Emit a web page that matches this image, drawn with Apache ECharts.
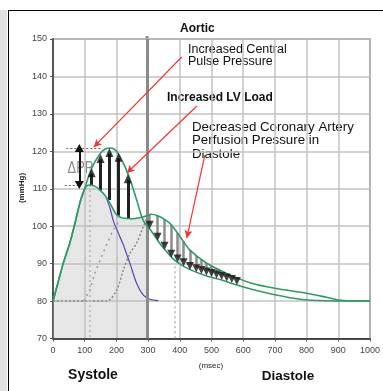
<!DOCTYPE html>
<html><head><meta charset="utf-8">
<script src="https://cdn.jsdelivr.net/npm/echarts@6/dist/echarts.min.js"></script>
<style>html,body{margin:0;padding:0;background:#fff}#c{width:383px;height:391px}</style>
</head><body><div id="c"></div>
<script>
// ---- data ----
var xTicks = [0,100,200,300,400,500,600,700,800,900,1000];
var yTicks = [70,80,90,100,110,120,130,140,150];
// normal (late reflection) aortic pressure
var normalCurve = [[0,80],[17,85.3],[32,90],[53,95.5],[70,101],[85,106.3],[100,109.9],[113,111],[132,110.7],[150,109.5],[167,107.9],[185,105.3],[201,103],[220,102.2],[250,102],[274,102.3],[296,102.8],[310,103.2],[330,102.8],[352,101.8],[373,100.4],[401,97.2],[432,93.6],[485,90.1],[548,87.4],[621,84.9],[700,83.4],[800,82.1],[863,81],[900,80.3],[950,80],[1000,80]];
// shaded systolic area (same curve up to end of systole)
var systoleArea = [[0,80],[17,85.3],[32,90],[53,95.5],[70,101],[85,106.3],[100,109.9],[113,111],[132,110.7],[150,109.5],[167,107.9],[185,105.3],[201,103],[220,102.2],[250,102],[274,102.3],[296,102.8]];
// early reflection aortic pressure
var earlyCurve = [[0,80],[17,85.3],[32,90],[53,95.5],[70,101],[85,106.3],[100,110.1],[122,115.5],[148,119.3],[165,120.6],[182,120.9],[197,120.3],[212,118.5],[238,113.7],[264,107],[285,101.5],[306,99.2],[332,96],[353,93.7],[380,91.2],[406,89.6],[432,88.4],[485,86.7],[537,85.5],[580,84.3],[621,83.3],[700,81.7],[779,80.5],[863,80.1],[1000,80]];
// forward wave tail
var forwardWave = [[167,107.9],[180,104.8],[190,101.5],[211,97.2],[222,95],[232,92.6],[243,90],[264,84.7],[285,81.6],[306,80.5],[332,80.1]];
// reflected waves
var earlyReflected = [[96,80],[116,83],[132,87.4],[153,91.8],[169,95],[190,99],[210,101.5]];
var lateReflected = [[0,80],[169,80],[201,83],[222,88.3],[243,92.8],[264,95.5],[285,99.9],[296,102]];
// systolic augmentation arrows
var upArrowX = [122,150,178,207,236];
var upArrowFrom = [111,109.5,107,102.8,102];
var upArrowTo = [115.5,119.3,120.9,119.6,113.9];
// diastolic loss arrows
var downArrowX = [305,330,352,373,393,412,432,452,468,484,500,516,532,548,564,580];
var downArrowFrom = [103.2,102.8,101.8,100.4,98.2,96,93.6,92,91.2,90.2,89.5,88.8,88.1,87.4,86.8,86.2];
var downArrowTo = [99.3,96.1,93.7,91.6,90.3,89.3,88.3,87.7,87.2,86.8,86.4,86,85.6,85.2,84.8,84.3];
var systoleEnd = 297;
var ppTop = 120.9, ppBottom = 111;

var green = '#2f9a68';
function ml(lines, style, sym, symSize){
  return {type:'line', data:[], silent:true, animation:false,
    markLine:{silent:true, animation:false, symbol: sym || ['none','none'], symbolSize: symSize || 8,
      label:{show:false}, emphasis:{disabled:true}, lineStyle:style, data:lines}};
}
var upLines = upArrowX.map(function(x,i){return [{coord:[x,upArrowFrom[i]]},{coord:[x,upArrowTo[i]-1.5]}];});
var downLines = downArrowX.map(function(x,i){return [{coord:[x,downArrowFrom[i]]},{coord:[x,downArrowTo[i]+1.5]}];});

var chart = echarts.init(document.getElementById('c'), null, {renderer:'canvas'});
chart.setOption({
  animation:false,
  grid:{left:53, right:13, top:39, bottom:52.5, show:true, borderColor:'#333', borderWidth:1.2},
  xAxis:{type:'value', min:0, max:1000, interval:100,
    axisLine:{show:true, lineStyle:{color:'#222', width:1.5}},
    axisTick:{show:true, length:3, lineStyle:{color:'#555'}},
    axisLabel:{fontSize:9, color:'#444', margin:8, fontFamily:'Liberation Sans', formatter:function(v){return String(v);}},
    splitLine:{show:true, lineStyle:{color:'#c2c2c2', width:1.5}}},
  yAxis:{type:'value', min:70, max:150, interval:10,
    axisLine:{show:true, lineStyle:{color:'#555', width:2}},
    axisTick:{show:true, length:3, lineStyle:{color:'#555'}},
    axisLabel:{fontSize:9, color:'#444', margin:6, fontFamily:'Liberation Sans', formatter:function(v){return String(v);}},
    splitLine:{show:true, lineStyle:{color:'#c2c2c2', width:1.5}}},
  series:[
    {type:'line', data:systoleArea, smooth:0.3, symbol:'none', lineStyle:{width:0},
      areaStyle:{color:'rgba(185,185,185,0.5)', origin:'start'}, z:1, silent:true},
    ml([[{coord:[115,111]},{coord:[115,70]}],[{coord:[385,89.3]},{coord:[385,70]}]],
      {color:'#b5b5b5', width:1.5, type:[2,3]}),
    ml([{xAxis:systoleEnd}], {color:'#8a8a8a', width:3, type:'solid'}),
    {type:'line', data:earlyReflected, smooth:0.3, symbol:'none', silent:true, z:3,
      lineStyle:{color:'#9a9a9a', width:1.5, type:[2,4]}},
    {type:'line', data:lateReflected, smooth:0.3, symbol:'none', silent:true, z:3,
      lineStyle:{color:'#8a8a8a', width:1.5, type:[2,2]}},
    {type:'line', data:forwardWave, smooth:0.3, symbol:'none', silent:true, z:4,
      lineStyle:{color:'#4b4bb0', width:1.2}},
    ml(downLines, {color:'#8c8c8c', width:2.5, type:'solid'}),
    ml(upLines, {color:'#222', width:3, type:'solid'}),
    {type:'line', data:normalCurve, smooth:0.3, symbol:'none', silent:true, z:5,
      lineStyle:{color:green, width:1.6}},
    {type:'line', data:earlyCurve, smooth:0.3, symbol:'none', silent:true, z:5,
      lineStyle:{color:green, width:1.6}},
    {type:'scatter', data:upArrowX.map(function(x,i){return [x,upArrowTo[i]];}), symbol:'triangle',
      symbolSize:[8,9], symbolOffset:[0,4.5], itemStyle:{color:'#111'}, z:6, silent:true},
    {type:'scatter', data:downArrowX.map(function(x,i){return [x,downArrowTo[i]];}), symbol:'triangle',
      symbolSize:[8,8], symbolRotate:180, symbolOffset:[0,-4], itemStyle:{color:'#111'}, z:6, silent:true},
    ml([[{coord:[42,ppTop]},{coord:[154,ppTop]}],[{coord:[37,ppBottom]},{coord:[85,ppBottom]}]],
      {color:'#666', width:1, type:[2,2]}),
    ml([[{coord:[83,ppBottom]},{coord:[83,ppTop]}]], {color:'#111', width:2, type:'solid'}, ['triangle','triangle'], [9,8]),
    ml([[{coord:[406,145.2]},{coord:[128.5,121.1]}],[{coord:[454,132.1]},{coord:[233,114.2]}],[{coord:[479,119]},{coord:[422,96.8]}]],
      {color:'#ff3030', width:1.2, type:'solid'}, ['none','arrow'], [6,8])
  ],
  graphic:[
    {type:'rect', shape:{x:0,y:10,width:7,height:381}, style:{fill:'#e2e2e2'}, silent:true},
    {type:'line', shape:{x1:8,y1:10.5,x2:383,y2:10.5}, style:{stroke:'#000', lineWidth:1}, silent:true},
    {type:'line', shape:{x1:8.5,y1:10,x2:8.5,y2:391}, style:{stroke:'#000', lineWidth:1}, silent:true},
    {type:'line', shape:{x1:147,y1:36,x2:147,y2:40}, style:{stroke:'#8a8a8a', lineWidth:3}, silent:true},
    {type:'text', x:180, y:29, style:{text:'Aortic', font:'bold 12px "Liberation Sans"', fill:'#111', verticalAlign:'middle'}},
    {type:'text', x:188, y:43, style:{text:'Increased Central\nPulse Pressure', font:'12.5px "Liberation Sans"', lineHeight:12.5, fill:'#111'}},
    {type:'text', x:167, y:98, style:{text:'Increased LV Load', font:'bold 12px "Liberation Sans"', fill:'#111', verticalAlign:'middle'}},
    {type:'text', x:192, y:120, style:{text:'Decreased Coronary Artery\nPerfusion Pressure in\nDiastole', font:'13.3px "Liberation Sans"', lineHeight:13.7, fill:'#111'}},
    {type:'text', x:67, y:169, scaleX:0.8, originX:67, originY:169, style:{text:'\u0394PP', font:'16px "Liberation Sans"', fill:'#8a8a8a', align:'center', verticalAlign:'middle'}, z:0},
    {type:'text', x:22, y:188, rotation:Math.PI/2, style:{text:'(mmHg)', font:'bold 8px "Liberation Sans"', fill:'#222', align:'center', verticalAlign:'middle'}},
    {type:'text', x:211, y:366, style:{text:'(msec)', font:'8px "Liberation Sans"', fill:'#222', align:'center', verticalAlign:'middle'}},
    {type:'text', x:93, y:375, style:{text:'Systole', font:'bold 14px "Liberation Sans"', fill:'#111', align:'center', verticalAlign:'middle'}},
    {type:'text', x:288, y:376, style:{text:'Diastole', font:'bold 13.5px "Liberation Sans"', fill:'#111', align:'center', verticalAlign:'middle'}}
  ]
});
</script></body></html>
